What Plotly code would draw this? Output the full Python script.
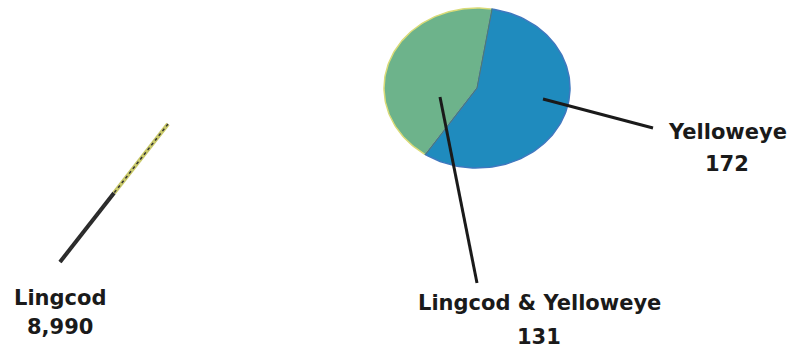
import numpy as np
import plotly.graph_objects as go

# ---- data ----
categories = ["Lingcod", "Lingcod & Yelloweye", "Yelloweye"]
counts = [8990, 131, 172]
slice_colors = ["#C9C96A", "#6DB38B", "#1F8BBE"]
edge_colors = ["#2A2A2A", "#DADB78", "#3F78BF"]

# ---- layout constants (pixel space) ----
W, H = 794, 354
cx, cy, rx, ry = 477, 88, 93, 80          # small pie (ellipse)
blue_mid = 111.5                            # mid angle of Yelloweye slice (deg, clockwise from top)

fig = go.Figure()

# small pie: the two minor categories drawn as elliptical wedges from the counts
minor = counts[1:]
tot = sum(minor)
spans = [360.0 * v / tot for v in minor]
start_blue = blue_mid - spans[1] / 2
starts = [start_blue + spans[1], start_blue]   # green, blue
for i, (st, sp) in enumerate(zip(starts, spans)):
    th = np.radians(np.linspace(st, st + sp, 120))
    xs = np.concatenate([[cx], cx + rx * np.sin(th), [cx]])
    ys = np.concatenate([[cy], cy - ry * np.cos(th), [cy]])
    fig.add_trace(go.Scatter(x=xs, y=ys, mode="lines", fill="toself",
                             fillcolor=slice_colors[i + 1],
                             line=dict(color=edge_colors[i + 1], width=1.5),
                             hoverinfo="skip", showlegend=False))

# divider lines
a1, a2 = np.radians(start_blue), np.radians(start_blue + spans[1])
fig.add_trace(go.Scatter(
    x=[cx + rx * np.sin(a1), cx, cx + rx * np.sin(a2)],
    y=[cy - ry * np.cos(a1), cy, cy - ry * np.cos(a2)],
    mode="lines", line=dict(color="#4E7F6A", width=1), hoverinfo="skip", showlegend=False))

# Lingcod: degenerate slice seen edge-on + leader
lx0, ly0, lx1, ly1 = 168, 124, 60, 262
lm = 0.5
fig.add_trace(go.Scatter(x=[lx0, lx0 + (lx1 - lx0) * lm], y=[ly0, ly0 + (ly1 - ly0) * lm], mode="lines",
                         line=dict(color=slice_colors[0], width=4), hoverinfo="skip", showlegend=False))
fig.add_trace(go.Scatter(x=[lx0 + (lx1 - lx0) * lm, lx1], y=[ly0 + (ly1 - ly0) * lm, ly1], mode="lines",
                         line=dict(color=edge_colors[0], width=4), hoverinfo="skip", showlegend=False))
fig.add_trace(go.Scatter(x=[lx0, lx1], y=[ly0, ly1], mode="lines",
                         line=dict(color="#333333", width=1.5, dash="dot"), hoverinfo="skip", showlegend=False))

# leader lines for the small pie
leaders = [((440, 97), (477, 283)), ((543, 99), (653, 128))]
for (a, b) in leaders:
    fig.add_trace(go.Scatter(x=[a[0], b[0]], y=[a[1], b[1]], mode="lines",
                             line=dict(color="#1A1A1A", width=3), hoverinfo="skip", showlegend=False))

# labels
label_pos = [(60, 298, 327), (539, 303, 337), (727, 132, 164)]
font = dict(family="DejaVu Sans", size=21, color="#1A1A1A")
for cat, v, (x, y1, y2) in zip(categories, counts, label_pos):
    fig.add_annotation(x=x, y=y1, text=f"<b>{cat}</b>", showarrow=False, font=font,
                       xanchor="center", yanchor="middle")
    fig.add_annotation(x=x, y=y2, text=f"<b>{v:,}</b>", showarrow=False, font=font,
                       xanchor="center", yanchor="middle")

fig.update_layout(
    width=W, height=H, margin=dict(l=0, r=0, t=0, b=0),
    paper_bgcolor="white", plot_bgcolor="white",
    xaxis=dict(range=[0, W], visible=False, fixedrange=True),
    yaxis=dict(range=[H, 0], visible=False, fixedrange=True),
    showlegend=False,
)
fig.write_html("out.html")
